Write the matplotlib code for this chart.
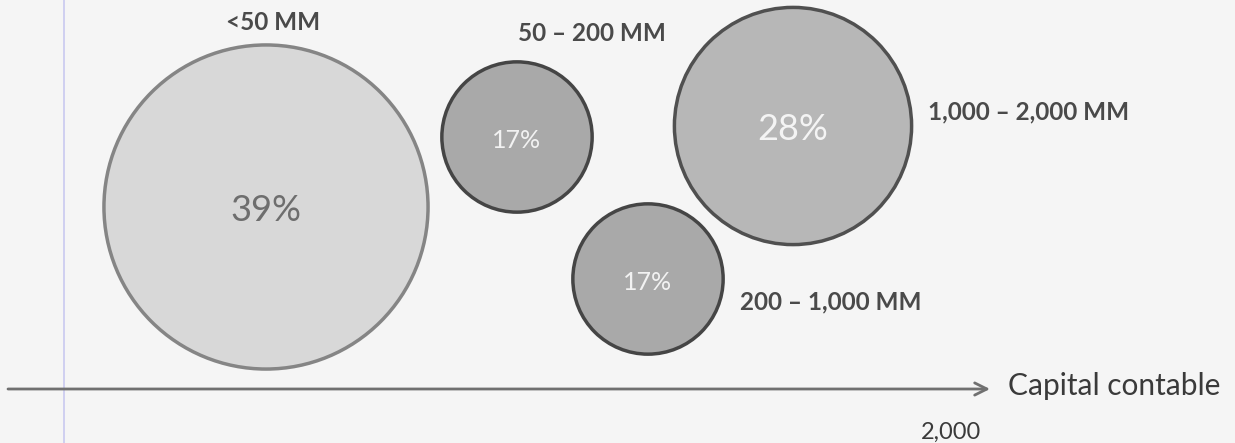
import matplotlib.pyplot as plt
from matplotlib.patches import Circle

# ==========================================
# DATA
# ==========================================
ranges = ['<50 MM', '50 – 200 MM', '200 – 1,000 MM', '1,000 – 2,000 MM']
shares = [39, 17, 17, 28]
axis_label = 'Capital contable'
axis_tick = '2,000'

# layout (pixel space of the 1235x443 canvas)
cx = [266, 517, 648, 793]
cy = [207, 137, 279, 126]
label_pos = [(273, 22, 'center'), (592, 33, 'center'), (740, 302, 'left'), (928, 112, 'left')]

fills = ['#d8d8d8', '#a9a9a9', '#a9a9a9', '#b7b7b7']
edges = ['#858585', '#454545', '#454545', '#505050']
pct_colors = ['#6e6e6e', '#f2f2f2', '#f2f2f2', '#f4f4f4']
pct_sizes = [26, 18, 18, 26]

plt.rcParams['font.family'] = ['Lato', 'DejaVu Sans']

fig = plt.figure(figsize=(12.35, 4.43), dpi=100)
fig.patch.set_facecolor('#f5f5f5')
ax = fig.add_axes([0, 0, 1, 1])
ax.set_facecolor('#f5f5f5')
ax.set_xlim(0, 1235)
ax.set_ylim(443, 0)
ax.axis('off')

# thin vertical guide line on the left
ax.plot([64, 64], [0, 443], color='#c9c9ef', lw=1.2, zorder=1)

# horizontal axis with arrow
ax.annotate('', xy=(990, 389), xytext=(8, 389),
            arrowprops=dict(arrowstyle='->', color='#707070', lw=2,
                            mutation_scale=22, shrinkA=0, shrinkB=0), zorder=2)
ax.text(1008, 386, axis_label, fontsize=21.5, color='#3a3a3a', va='center', ha='left')
ax.text(951, 432, axis_tick, fontsize=17, color='#3a3a3a', va='center', ha='center')

for i, pct in enumerate(shares):
    r = 8 + 3.95 * pct
    ax.add_patch(Circle((cx[i], cy[i]), r, facecolor=fills[i], edgecolor=edges[i],
                        lw=2.5, zorder=3))
    ax.text(cx[i], cy[i] + 3, f'{pct}%', fontsize=pct_sizes[i], color=pct_colors[i],
            ha='center', va='center', zorder=4)
    lx, ly, ha = label_pos[i]
    ax.text(lx, ly, ranges[i], fontsize=17.5, fontweight='bold', color='#4a4a4a',
            ha=ha, va='center', zorder=4)

fig.savefig('out.png', dpi=100, facecolor=fig.get_facecolor())
